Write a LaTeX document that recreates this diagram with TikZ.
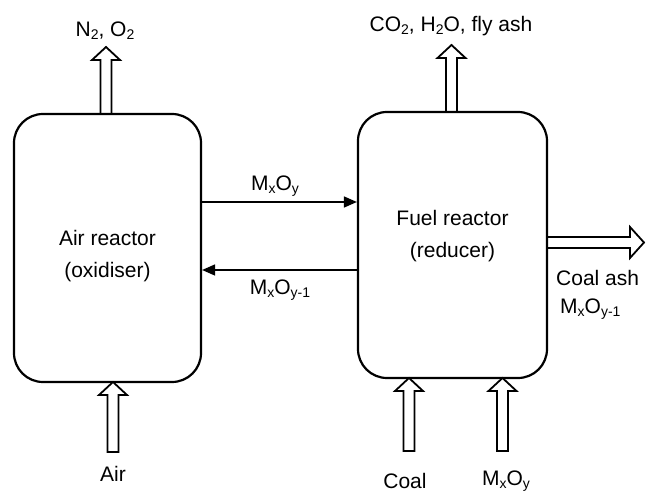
\documentclass[tikz,border=0pt]{standalone}
\usepackage{fontspec}
\setmainfont{Liberation Sans}
\usetikzlibrary{arrows.meta}
\newcommand\lsub[1]{\raisebox{-0.3ex}{\fontsize{14}{14}\selectfont #1}}
\newcommand\hup[3]{% x, tip y, base y  (y grows downward)
  \draw[hollow] (#1-5.5,#3) -- (#1-5.5,#2+13) -- (#1-14,#2+13) -- (#1,#2)
    -- (#1+14,#2+13) -- (#1+5.5,#2+13) -- (#1+5.5,#3) -- cycle;}
\begin{document}
\begin{tikzpicture}[x=1pt,y=-1pt,
  font=\fontsize{21}{28}\selectfont,
  reactor/.style={draw, line width=2.2pt, rounded corners=29pt, fill=white},
  rtext/.style={align=center, inner sep=0pt, font=\fontsize{21}{32}\selectfont},
  hollow/.style={draw, line width=1.8pt, fill=white, line join=miter},
  flow/.style={line width=1.5pt, -{Triangle[length=13pt,width=11pt]}},
  lbl/.style={inner sep=0pt}]
\useasboundingbox (0,0) rectangle (646,494);
% hollow stream arrows (drawn first, boxes cover their bases)
\hup{106}{47}{114}
\hup{451.5}{45}{112}
\draw[hollow] (547,237) -- (630,237) -- (630,227) -- (644,242.5) -- (630,258) -- (630,248) -- (547,248) -- cycle;
% reactors
\node[reactor, minimum width=187pt, minimum height=268pt] (air) at (107.5,248) {};
\node[reactor, minimum width=189pt, minimum height=266pt] (fuel) at (452.5,245) {};
\node[rtext] (airt) at (107.5,256) {Air reactor\\(oxidiser)};
\node[rtext] (fuelt) at (452.5,236) {Fuel reactor\\(reducer)};
% inlet arrows
\hup{113}{382}{452}
\hup{409}{378}{451}
\hup{502.5}{378}{451}
% solid circulation
\draw[flow] (air.east |- 0,202) -- (fuel.west |- 0,202);
\draw[flow] (fuel.west |- 0,270) -- (air.east |- 0,270);
% labels
\node[lbl] (n2) at (105,31) {N\lsub{2}, O\lsub{2}};
\node[lbl] (co2) at (451,26) {CO\lsub{2}, H\lsub{2}O, fly ash};
\node[lbl] (mo1) at (275,186) {M\lsub{x}O\lsub{y}};
\node[lbl] (mo2) at (280,290) {M\lsub{x}O\lsub{y-1}};
\node[lbl, anchor=west] (ash) at (556,278) {Coal ash};
\node[lbl, anchor=west] (mo3) at (560,309) {M\lsub{x}O\lsub{y-1}};
\node[lbl] (airl) at (113,474) {Air};
\node[lbl] (coal) at (405,481) {Coal};
\node[lbl] (mo4) at (506,481) {M\lsub{x}O\lsub{y}};
\end{tikzpicture}
\end{document}
